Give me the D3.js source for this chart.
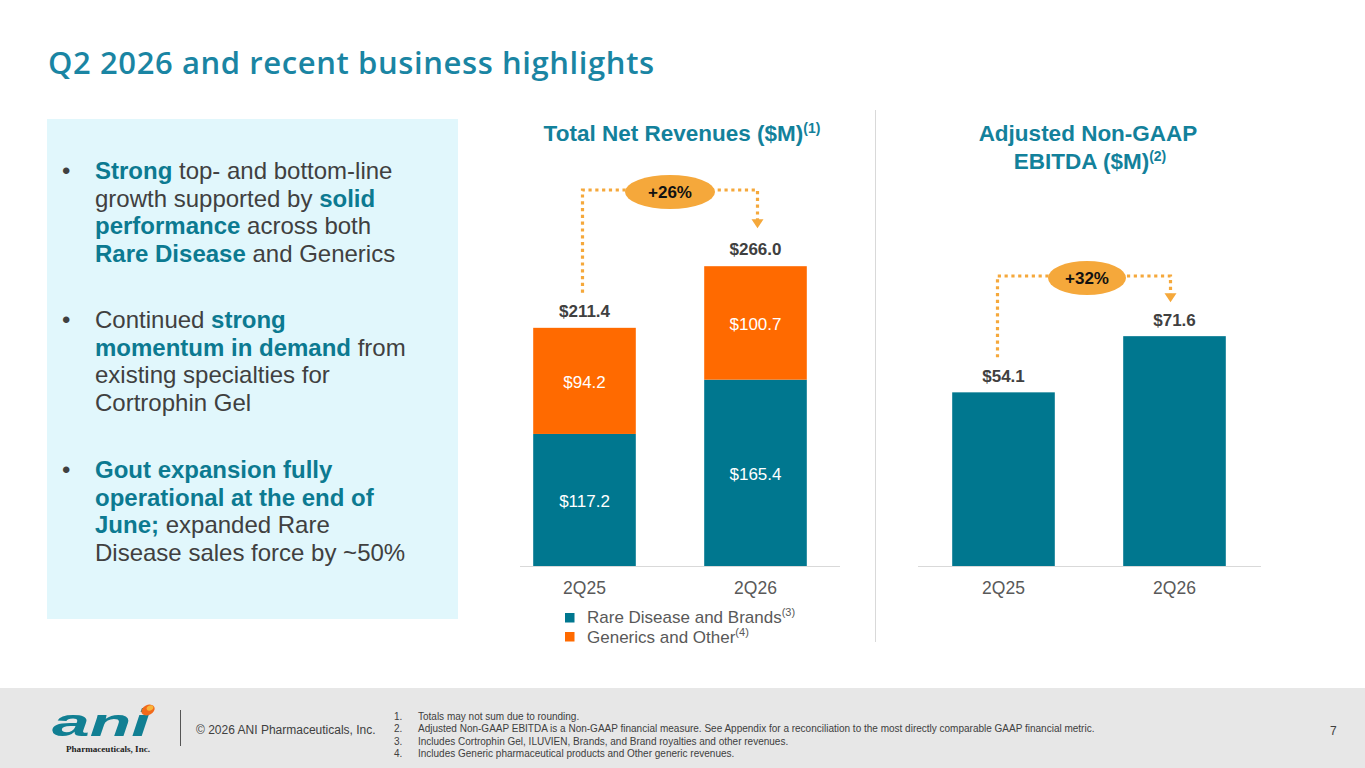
<!DOCTYPE html>
<html><head><meta charset="utf-8">
<script src="https://cdn.jsdelivr.net/npm/d3@7/dist/d3.min.js"></script>
<style>
html,body{margin:0;padding:0;background:#fff;}
svg{display:block;}
</style></head>
<body>
<svg id="c" width="1365" height="768"></svg>
<script>
const categories = ["2Q25", "2Q26"];
const rareDisease = [117.2, 165.4];
const generics = [94.2, 100.7];
const totals = [211.4, 266.0];
const ebitda = [54.1, 71.6];
const growthLabels = ["+26%", "+32%"];
const seriesNames = ["Rare Disease and Brands", "Generics and Other"];
const seriesNotes = ["(3)", "(4)"];
const footnotes = [
  "Totals may not sum due to rounding.",
  "Adjusted Non-GAAP EBITDA is a Non-GAAP financial measure. See Appendix for a reconciliation to the most directly comparable GAAP financial metric.",
  "Includes Cortrophin Gel, ILUVIEN, Brands, and Brand royalties and other revenues.",
  "Includes Generic pharmaceutical products and Other generic revenues."
];

const TEAL = "#00778F", ORANGE = "#FF6A00", ARROW = "#F5A83B", TITLE = "#13819B";
const DARK = "#404040", GREY = "#595959";
const FONT = "Liberation Sans, Arial, sans-serif";

const svg = d3.select("#c");

// Title
svg.append("text").attr("x", 48).attr("y", 74)
  .attr("font-family", "Open Sans, sans-serif").attr("font-weight", 600)
  .attr("font-size", 31).attr("letter-spacing", 0.6).attr("fill", "#1A85A3")
  .text("Q2 2026 and recent business highlights");

// Left panel
svg.append("rect").attr("x", 47).attr("y", 119).attr("width", 411).attr("height", 500).attr("fill", "#E1F7FC");

const bullets = [
  [[["Strong", 1], [" top- and bottom-line", 0]], [["growth supported by ", 0], ["solid", 1]], [["performance", 1], [" across both", 0]], [["Rare Disease", 1], [" and Generics", 0]]],
  [[["Continued ", 0], ["strong", 1]], [["momentum in demand", 1], [" from", 0]], [["existing specialties for", 0]], [["Cortrophin Gel", 0]]],
  [[["Gout expansion fully", 1]], [["operational at the end of", 1]], [["June;", 1], [" expanded Rare", 0]], [["Disease sales force by ~50%", 0]]]
];
const bulletY = [179, 328, 478];
bullets.forEach((b, bi) => {
  svg.append("text").attr("x", 62).attr("y", bulletY[bi]).attr("font-family", FONT)
    .attr("font-size", 24).attr("fill", DARK).text("•");
  b.forEach((line, li) => {
    const t = svg.append("text").attr("x", 95).attr("y", bulletY[bi] + li * 27.7)
      .attr("font-family", FONT).attr("font-size", 24);
    line.forEach(([s, bold]) => {
      t.append("tspan").attr("font-weight", bold ? "bold" : "normal")
        .attr("fill", bold ? "#0C7A91" : DARK).text(s);
    });
  });
});

// separator
svg.append("line").attr("x1", 875.5).attr("x2", 875.5).attr("y1", 110).attr("y2", 642)
  .attr("stroke", "#D9D9D9").attr("stroke-width", 1);

// Chart titles
function titleText(x, y, main, sup) {
  const t = svg.append("text").attr("x", x).attr("y", y).attr("text-anchor", "middle")
    .attr("font-family", FONT).attr("font-weight", "bold").attr("font-size", 22.5).attr("fill", TITLE);
  t.append("tspan").text(main);
  if (sup) t.append("tspan").attr("font-size", 14).attr("dy", -8).text(sup);
}
titleText(682, 141, "Total Net Revenues ($M)", "(1)");
titleText(1088, 141, "Adjusted Non-GAAP", null);
titleText(1090, 169, "EBITDA ($M)", "(2)");

const BASE = 566;

// ---- Left chart: stacked ----
const xL = d3.scaleBand().domain(categories).range([499, 841]).paddingInner(0.4).paddingOuter(0.2);
const yL = d3.scaleLinear().domain([0, 300]).range([BASE, 228]);
const stackData = categories.map((c, i) => ({cat: c, rare: rareDisease[i], gen: generics[i]}));
const stack = d3.stack().keys(["rare", "gen"])(stackData);
const colors = [TEAL, ORANGE];
stack.forEach((layer, li) => {
  svg.append("g").selectAll("rect").data(layer).join("rect")
    .attr("x", d => xL(d.data.cat)).attr("width", xL.bandwidth())
    .attr("y", d => yL(d[1])).attr("height", d => yL(d[0]) - yL(d[1]))
    .attr("fill", colors[li]);
  svg.append("g").selectAll("text").data(layer).join("text")
    .attr("x", d => xL(d.data.cat) + xL.bandwidth() / 2)
    .attr("y", d => (yL(d[0]) + yL(d[1])) / 2 + 7)
    .attr("text-anchor", "middle").attr("font-family", FONT).attr("font-size", 17)
    .attr("fill", "#fff").text(d => "$" + (d[1] - d[0]).toFixed(1));
});
svg.append("g").selectAll("text").data(totals).join("text")
  .attr("x", (d, i) => xL(categories[i]) + xL.bandwidth() / 2)
  .attr("y", d => yL(d) - 11)
  .attr("text-anchor", "middle").attr("font-family", FONT).attr("font-weight", "bold")
  .attr("font-size", 17).attr("fill", DARK).text(d => "$" + d.toFixed(1));

// axis line & labels
svg.append("line").attr("x1", 520).attr("x2", 840).attr("y1", BASE + 0.5).attr("y2", BASE + 0.5)
  .attr("stroke", "#D9D9D9").attr("stroke-width", 1);
svg.append("g").selectAll("text").data(categories).join("text")
  .attr("x", d => xL(d) + xL.bandwidth() / 2).attr("y", 594)
  .attr("text-anchor", "middle").attr("font-family", FONT).attr("font-size", 17.5).attr("fill", GREY).text(d => d);

// legend
seriesNames.forEach((n, i) => {
  svg.append("rect").attr("x", 565).attr("y", 613 + i * 19).attr("width", 9.5).attr("height", 9.5).attr("fill", colors[i]);
  const t = svg.append("text").attr("x", 587).attr("y", 623 + i * 20).attr("font-family", FONT)
    .attr("font-size", 17).attr("fill", GREY);
  t.append("tspan").text(n);
  t.append("tspan").attr("font-size", 11).attr("dy", -7).text(seriesNotes[i]);
});

// ---- Right chart ----
const xR = d3.scaleBand().domain(categories).range([918, 1260]).paddingInner(0.4).paddingOuter(0.2);
const yR = d3.scaleLinear().domain([0, 80]).range([BASE, 309.2]);
svg.append("g").selectAll("rect").data(ebitda).join("rect")
  .attr("x", (d, i) => xR(categories[i])).attr("width", xR.bandwidth())
  .attr("y", d => yR(d)).attr("height", d => BASE - yR(d)).attr("fill", TEAL);
svg.append("g").selectAll("text").data(ebitda).join("text")
  .attr("x", (d, i) => xR(categories[i]) + xR.bandwidth() / 2)
  .attr("y", d => yR(d) - 10)
  .attr("text-anchor", "middle").attr("font-family", FONT).attr("font-weight", "bold")
  .attr("font-size", 17).attr("fill", DARK).text(d => "$" + d.toFixed(1));
svg.append("line").attr("x1", 918).attr("x2", 1261).attr("y1", BASE + 0.5).attr("y2", BASE + 0.5)
  .attr("stroke", "#D9D9D9").attr("stroke-width", 1);
svg.append("g").selectAll("text").data(categories).join("text")
  .attr("x", d => xR(d) + xR.bandwidth() / 2).attr("y", 594)
  .attr("text-anchor", "middle").attr("font-family", FONT).attr("font-size", 17.5).attr("fill", GREY).text(d => d);

// growth arrows
function growthArrow(x0, x1, yTop, y0, y1, label, rx, cx) {
  const g = svg.append("g");
  g.append("path")
    .attr("d", `M${x0},${y0} V${yTop} H${x1} V${y1 - 8}`)
    .attr("fill", "none").attr("stroke", ARROW).attr("stroke-width", 3.2)
    .attr("stroke-dasharray", "3.2,3.6");
  g.append("path").attr("d", `M${x1 - 6},${y1 - 9} L${x1 + 6},${y1 - 9} L${x1},${y1} Z`).attr("fill", ARROW);
  g.append("ellipse").attr("cx", cx).attr("cy", yTop + 2).attr("rx", rx).attr("ry", 17).attr("fill", ARROW);
  g.append("text").attr("x", cx).attr("y", yTop + 8).attr("text-anchor", "middle")
    .attr("font-family", FONT).attr("font-weight", "bold").attr("font-size", 17).attr("fill", "#111").text(label);
}
const lc0 = xL(categories[0]) + xL.bandwidth() / 2 - 2, lc1 = xL(categories[1]) + xL.bandwidth() / 2 + 2;
growthArrow(lc0, lc1, 190, yL(totals[0]) - 35, yL(totals[1]) - 38, growthLabels[0], 45, 670);
const rc0 = xR(categories[0]) + xR.bandwidth() / 2 - 6, rc1 = xR(categories[1]) + xR.bandwidth() / 2 - 4;
growthArrow(rc0, rc1, 276, yR(ebitda[0]) - 35, yR(ebitda[1]) - 34, growthLabels[1], 39, 1087);

// ---- Footer ----
svg.append("rect").attr("x", 0).attr("y", 688).attr("width", 1365).attr("height", 80).attr("fill", "#E7E7E7");
// logo
const logo = svg.append("g");
logo.append("text").attr("x", 52).attr("y", 736).attr("font-family", "Liberation Sans, Arial, sans-serif")
  .attr("font-weight", "bold").attr("font-style", "italic").attr("font-size", 38).attr("fill", "#117F93")
  .attr("textLength", 98).attr("lengthAdjust", "spacingAndGlyphs").text("ani");
logo.append("ellipse").attr("cx", 148).attr("cy", 710).attr("rx", 7).attr("ry", 5)
  .attr("transform", "rotate(-25,148,710)").attr("fill", "#F26A1B");
logo.append("ellipse").attr("cx", 150).attr("cy", 708).attr("rx", 3.5).attr("ry", 2.5)
  .attr("transform", "rotate(-25,150,708)").attr("fill", "#F8B43A");
logo.append("text").attr("x", 66).attr("y", 752).attr("font-family", "Liberation Serif, serif")
  .attr("font-weight", "bold").attr("font-size", 8.5).attr("fill", "#222")
  .attr("textLength", 84).attr("lengthAdjust", "spacingAndGlyphs").text("Pharmaceuticals, Inc.");
svg.append("line").attr("x1", 180.5).attr("x2", 180.5).attr("y1", 710).attr("y2", 746)
  .attr("stroke", "#555").attr("stroke-width", 1);
svg.append("text").attr("x", 196).attr("y", 734).attr("font-family", FONT).attr("font-size", 12)
  .attr("fill", DARK).text("© 2026 ANI Pharmaceuticals, Inc.");
footnotes.forEach((f, i) => {
  svg.append("text").attr("x", 394).attr("y", 720 + i * 12.3).attr("font-family", "Liberation Sans Narrow, Arial Narrow, sans-serif")
    .attr("font-size", 10).attr("fill", DARK).text((i + 1) + ".");
  svg.append("text").attr("x", 418).attr("y", 720 + i * 12.3).attr("font-family", "Liberation Sans Narrow, Arial Narrow, sans-serif")
    .attr("font-size", 10).attr("fill", DARK).text(f);
});
svg.append("text").attr("x", 1330).attr("y", 735).attr("font-family", FONT).attr("font-size", 12)
  .attr("fill", DARK).text("7");
</script>
</body></html>
